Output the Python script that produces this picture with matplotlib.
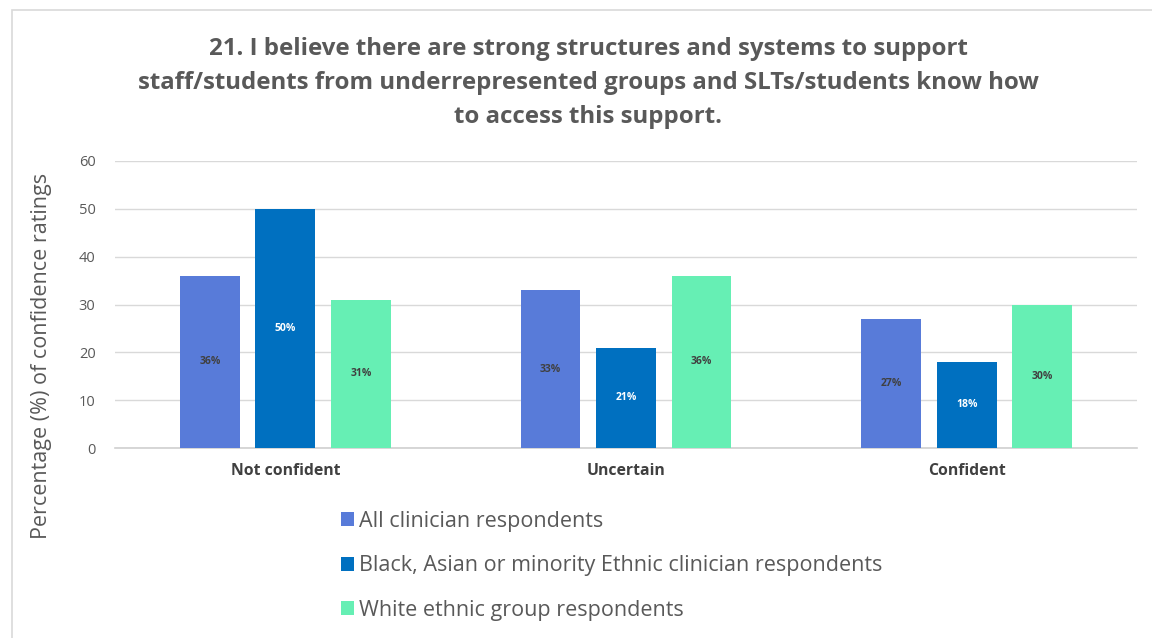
import numpy as np
import matplotlib.pyplot as plt
from matplotlib.patches import Rectangle, Patch

plt.rcParams['font.family'] = ['Open Sans', 'DejaVu Sans']

categories = ['Not confident', 'Uncertain', 'Confident']
series = ['All clinician respondents',
          'Black, Asian or minority Ethnic clinician respondents',
          'White ethnic group respondents']
all_clin = [36, 33, 27]
bame_clin = [50, 21, 18]
white_clin = [31, 36, 30]
colors = ['#587BD9', '#0070C0', '#66EFB4']
label_colors = ['#404040', 'white', '#404040']

fig = plt.figure(figsize=(11.52, 6.38), dpi=100)
# light frame around the chart
fig.patches.append(Rectangle((12/1152, -0.1), 1.2, 1 - 10/638 + 0.1,
                             transform=fig.transFigure, fill=False,
                             edgecolor='#D9D9D9', linewidth=1.2))

ax = fig.add_axes([115/1152, 1 - 448/638, 1022/1152, (448 - 161)/638])
x = np.arange(len(categories))
w = 0.176
step = 0.2216
for i, vals in enumerate([all_clin, bame_clin, white_clin]):
    pos = x + (i - 1) * step
    ax.bar(pos, vals, w, color=colors[i], zorder=3)
    for p, v in zip(pos, vals):
        ax.text(p, v / 2, f'{v}%', ha='center', va='center', fontsize=7.5,
                fontweight='bold', color=label_colors[i], zorder=4)

ax.set_xlim(-0.5, 2.5)
ax.set_ylim(0, 60)
ax.set_yticks(range(0, 61, 10))
ax.yaxis.grid(True, color='#D9D9D9', linewidth=1)
ax.set_axisbelow(True)
for s in ['top', 'right', 'left']:
    ax.spines[s].set_visible(False)
ax.spines['bottom'].set_color('#D0D0D0')
ax.spines['bottom'].set_linewidth(1.2)
ax.tick_params(axis='both', length=0)
ax.tick_params(axis='y', labelsize=10.5, labelcolor='#595959', pad=14)
ax.set_xticks(x)
ax.set_xticklabels(categories, fontsize=11.3, fontweight='bold', color='#404040')
ax.tick_params(axis='x', pad=11)
ax.set_ylabel('Percentage (%) of confidence ratings', fontsize=15.5,
              color='#595959')
ax.yaxis.set_label_coords(-0.062, 0.32)

fig.text(588/1152, 1 - 83/638,
         '21. I believe there are strong structures and systems to support\n'
         'staff/students from underrepresented groups and SLTs/students know how\n'
         'to access this support.',
         ha='center', va='center', fontsize=17.3, fontweight='bold',
         color='#595959', linespacing=1.55)

handles = [Patch(facecolor=c) for c in colors]
fig.legend(handles, series, loc='upper left', bbox_to_anchor=(332/1152, 1 - 502/638),
           frameon=False, fontsize=15.5, labelcolor='#595959',
           handlelength=0.62, handleheight=0.62, handletextpad=0.25,
           labelspacing=1.1, borderaxespad=0)

fig.savefig('out.png', dpi=100)
